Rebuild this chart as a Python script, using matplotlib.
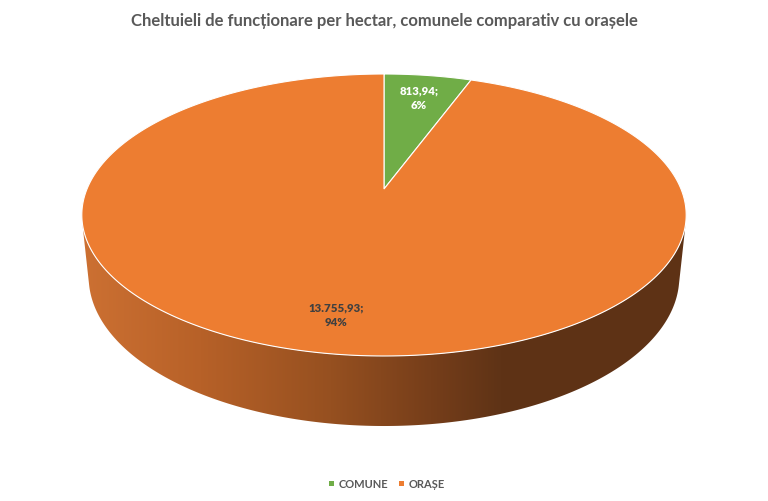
import numpy as np
import matplotlib
matplotlib.use('Agg')
import matplotlib.pyplot as plt
from matplotlib.patches import Polygon, Rectangle

# data
categories = ['COMUNE', 'ORAȘE']
values = [813.94, 13755.93]
value_labels = ['813,94', '13.755,93']
colors = ['#70AD47', '#ED7D31']

plt.rcParams['font.family'] = ['Lato', 'DejaVu Sans']

fig = plt.figure(figsize=(7.68, 5.02), dpi=100)
ax = fig.add_axes([0, 0, 1, 1])
ax.set_xlim(0, 768)
ax.set_ylim(502, 0)
ax.axis('off')

# perspective camera for the 3d disc (pixels)
cx, cy = 384, 190
k = 297
sin_a, cos_a = 0.4586, 0.8886
e = 0.2075
H = 0.2366


def proj(theta, r=1.0, h=0.0):
    # theta in degrees, clockwise from 12 o'clock
    t = np.radians(theta)
    u = r * np.sin(t)
    v = r * np.cos(t)
    w = 1 + e * (v * cos_a - h * sin_a)
    x = cx + k * u / w
    y = cy - k * (v * sin_a + h * cos_a) / w
    return x, y


total = sum(values)
fracs = [v / total for v in values]
starts = np.concatenate([[0], np.cumsum(fracs)[:-1]]) * 360
ends = np.cumsum(fracs) * 360

# silhouette of the side wall
vis = np.degrees(np.arccos(-1 / (1 / e * cos_a)))
vis_lo, vis_hi = 360 - vis, vis
vis_lo, vis_hi = min(vis_lo, vis_hi), max(vis_lo, vis_hi)

# gradient for the side
stops_x = [0, 85, 200, 330, 430, 500, 768]
stops_c = np.array([(204, 112, 50), (204, 112, 50), (183, 97, 40), (150, 80, 32),
                    (118, 62, 26), (95, 51, 22), (94, 50, 21)]) / 255
xs = np.arange(768)
grad = np.stack([np.interp(xs, stops_x, stops_c[:, i]) for i in range(3)], axis=-1)
grad = np.repeat(grad[None, :, :], 2, axis=0)

for s, en, c in zip(starts, ends, colors):
    a0, a1 = max(s, vis_lo), min(en, vis_hi)
    if a1 <= a0:
        continue
    th = np.linspace(a0, a1, 300)
    xt, yt = proj(th)
    xb, yb = proj(th[::-1], h=-H)
    pts = np.column_stack([np.concatenate([xt, xb]), np.concatenate([yt, yb])])
    poly = Polygon(pts, closed=True, facecolor='none', edgecolor='none')
    ax.add_patch(poly)
    im = ax.imshow(grad, extent=[0, 768, 502, 0], aspect='auto', zorder=1)
    im.set_clip_path(poly)

# top face
for s, en, c in zip(starts, ends, colors):
    th = np.linspace(s, en, 400)
    xt, yt = proj(th)
    x0, y0 = proj(0, r=0)
    pts = np.column_stack([np.concatenate([[x0], xt]), np.concatenate([[y0], yt])])
    ax.add_patch(Polygon(pts, closed=True, facecolor=c, edgecolor='white',
                         linewidth=0.8, zorder=3))

# data labels
lab_pos = [(419, 98), (336, 315)]
lab_col = ['white', '#404040']
for (lx, ly), vl, f, tc in zip(lab_pos, value_labels, fracs, lab_col):
    ax.text(lx, ly, f'{vl};\n{round(f * 100):.0f}%', ha='center', va='center',
            fontsize=8.2, fontweight='heavy', color=tc, linespacing=1.45, zorder=5)

# title
ax.text(384, 21, 'Cheltuieli de funcționare per hectar, comunele comparativ cu orașele',
        ha='center', va='center', fontsize=12, fontweight='bold', color='#595959')

# legend
leg_x = [329, 399]
for lx, cat, c in zip(leg_x, categories, colors):
    ax.add_patch(Rectangle((lx, 482), 5, 5, facecolor=c, edgecolor='none'))
    ax.text(lx + 10, 485, cat, ha='left', va='center', fontsize=8, fontweight='bold',
            color='#595959')

fig.savefig('out.png', dpi=100)
